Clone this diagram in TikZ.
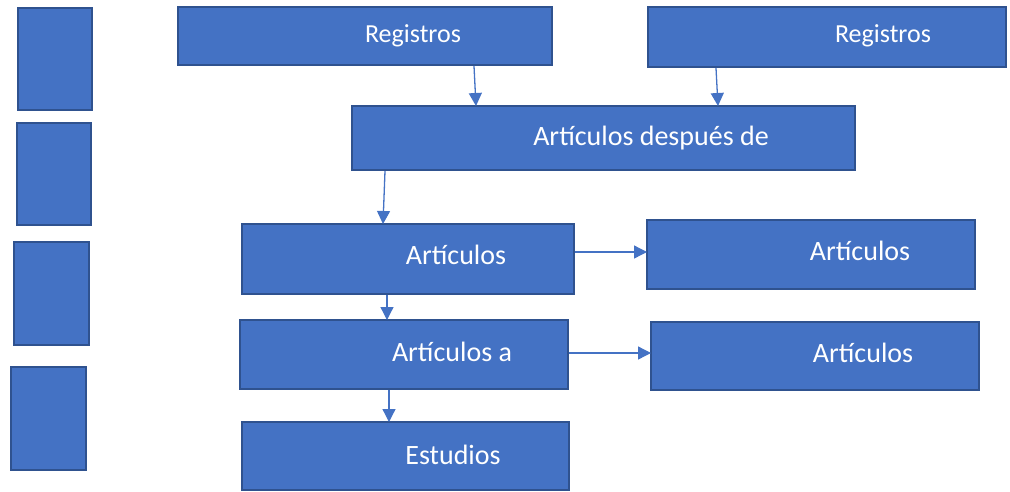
\documentclass[tikz,border=0pt]{standalone}
\usepackage{fontspec}
\setmainfont{Carlito}
\usetikzlibrary{arrows.meta}
\definecolor{boxfill}{HTML}{4472C4}
\definecolor{boxline}{HTML}{2F528F}
\begin{document}
\begin{tikzpicture}[x=1pt,y=-1pt,
  box/.style={draw=boxline,line width=2pt,fill=boxfill,inner sep=0pt,outer sep=0pt},
  txt/.style={text=white,font=\fontsize{28}{32}\selectfont,inner sep=0pt,anchor=center},
  smalltxt/.style={txt,font=\fontsize{26}{30}\selectfont},
  conn/.style={draw=boxfill,line width=1.3pt,-{Triangle[length=13pt,width=13pt]}}]
\useasboundingbox (0,0) rectangle (1010,491);
% left column boxes
\node[box,minimum width=74pt,minimum height=102pt] (l1) at (55,59) {};
\node[box,minimum width=74pt,minimum height=102pt] (l2) at (54,174) {};
\node[box,minimum width=75pt,minimum height=103pt] (l3) at (51.5,293.5) {};
\node[box,minimum width=75pt,minimum height=103pt] (l4) at (48.5,418.5) {};
% main boxes
\node[box,minimum width=374pt,minimum height=58pt] (r1) at (365,36) {};
\node[box,minimum width=358pt,minimum height=60pt] (r2) at (827,37) {};
\node[box,minimum width=503pt,minimum height=64pt] (a) at (603.5,138) {};
\node[box,minimum width=332pt,minimum height=70pt] (b) at (408,259) {};
\node[box,minimum width=328pt,minimum height=69pt] (c) at (811,254.5) {};
\node[box,minimum width=328pt,minimum height=69pt] (d) at (404,354.5) {};
\node[box,minimum width=328pt,minimum height=68pt] (e) at (815,356) {};
\node[box,minimum width=327pt,minimum height=68pt] (f) at (405.5,456) {};
% texts
\node[smalltxt] (r1t) at (413,36) {Registros};
\node[smalltxt] (r2t) at (883,36) {Registros};
\node[txt] (at) at (651,138) {Artículos después de};
\node[txt] (bt) at (456,255) {Artículos};
\node[txt] (ct) at (860,251) {Artículos};
\node[txt] (dt) at (452,352) {Artículos a};
\node[txt] (et) at (863,353) {Artículos};
\node[txt] (ft) at (453,455) {Estudios};
% connectors
\coordinate (p1) at (474,66);
\coordinate (q1) at (476,106);
\draw[conn] (p1) -- (q1);
\coordinate (p2) at (716,68);
\coordinate (q2) at (718,106);
\draw[conn] (p2) -- (q2);
\coordinate (p3) at (385,171);
\coordinate (q3) at (383,224);
\draw[conn] (p3) -- (q3);
\coordinate (p4) at (575,252);
\coordinate (q4) at (647,252);
\draw[conn] (p4) -- (q4);
\coordinate (p5) at (387,295);
\coordinate (q5) at (387,320);
\draw[conn] (p5) -- (q5);
\coordinate (p6) at (569,353);
\coordinate (q6) at (651,353);
\draw[conn] (p6) -- (q6);
\coordinate (p7) at (389,390);
\coordinate (q7) at (389,422);
\draw[conn] (p7) -- (q7);
\end{tikzpicture}
\end{document}
